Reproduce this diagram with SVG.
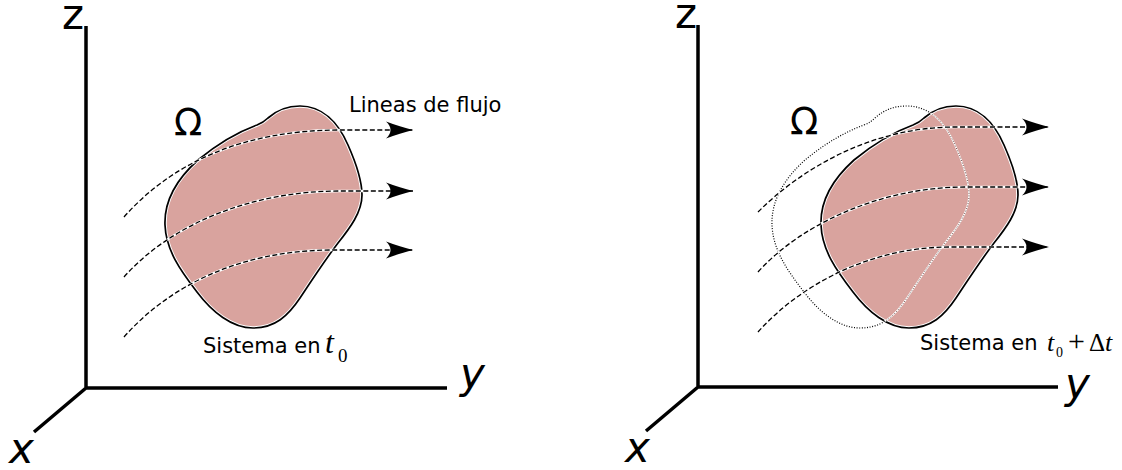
<svg xmlns="http://www.w3.org/2000/svg" xmlns:xlink="http://www.w3.org/1999/xlink" width="1122" height="470" viewBox="0 0 1122 470">
<style>
.axis{stroke:#000;stroke-width:3.5;fill:none;stroke-linecap:butt}
.blobEdge{fill:#d9a39e;stroke:#fff;stroke-width:3.6}
.blob{fill:none;stroke:#000;stroke-width:1.7}
.ghost{fill:none;stroke:#000;stroke-width:1.2;stroke-dasharray:1 1.6}
.ghostIn{fill:none;stroke:#fff;stroke-width:1.6}
.ghostInDots{fill:none;stroke:#6a5450;stroke-width:1;stroke-dasharray:1 1.6}
.flowUnder{fill:none;stroke:#fff;stroke-width:2.4}
.flow{fill:none;stroke:#000;stroke-width:1.3;stroke-dasharray:5 2.5}
.axlbl{font-family:"DejaVu Sans",Verdana,sans-serif;font-size:42px;fill:#000}
.lbl{font-family:"DejaVu Sans",Verdana,sans-serif;font-size:21px;fill:#000}
.om{font-family:"DejaVu Sans",Verdana,sans-serif;font-size:37px;fill:#000}
.math{font-family:"Liberation Serif","Times New Roman",serif;fill:#000}
</style>
<defs>
<path id="blobShape" d="M257,125 C262,123 265,121 268,118 C278,109 288,106 300,106 C322,106 338,122 348,145 C356,163 362,180 362,195 C362,212 350,228 338,243 C325,260 312,280 300,298 C288,316 275,328 253,328 C232,328 212,312 197,292 C180,270 166,250 165,225 C164,200 178,178 198,160 C215,146 235,133 257,125 Z"/>
<clipPath id="clipRight">
<use xlink:href="#blobShape" transform="translate(656,0)"/>
</clipPath>
<marker id="ah" markerUnits="userSpaceOnUse" markerWidth="32" markerHeight="22" viewBox="-29 -11 32 22" refX="0" refY="0" orient="auto">
<path d="M0,0 C-8,-2 -18,-5 -27,-8.5 C-21,-3 -21,3 -27,8.5 C-18,5 -8,2 0,0 Z" fill="#000"/>
</marker>
</defs>
<rect width="1122" height="470" fill="#fff"/>

<g id="axes-left">
<path class="axis" d="M86,26 V388 H447 M86,388 L34,432"/>
<text class="axlbl" x="62" y="29">z</text>
<text class="axlbl" x="460" y="388" font-style="italic">y</text>
<text class="axlbl" x="9" y="463" font-style="italic">x</text>
</g>

<g id="axes-right">
<path class="axis" d="M698,25 V387 H1058 M698,387 L646,431"/>
<text class="axlbl" x="675" y="28">z</text>
<text class="axlbl" x="1065" y="398" font-style="italic">y</text>
<text class="axlbl" x="625" y="462" font-style="italic">x</text>
</g>

<g id="system-t0">
<use xlink:href="#blobShape" class="blobEdge"/>
<use xlink:href="#blobShape" class="blob"/>
</g>

<g id="system-initial-ghost">
<use xlink:href="#blobShape" class="ghost" transform="translate(607,0)"/>
</g>

<g id="system-t0-dt">
<use xlink:href="#blobShape" class="blobEdge" transform="translate(656,0)"/>
<use xlink:href="#blobShape" class="blob" transform="translate(656,0)"/>
<g clip-path="url(#clipRight)">
<use xlink:href="#blobShape" class="ghostIn" transform="translate(607,0)"/>
<use xlink:href="#blobShape" class="ghostInDots" transform="translate(607,0)"/>
</g>
</g>

<g id="connectors">
<path class="flowUnder" d="M124,217 C170,165 240,130 340,130 L395,130"/>
<path class="flowUnder" d="M124,277 C170,225 250,191 340,191 L395,191"/>
<path class="flowUnder" d="M124,337 C170,285 240,251 330,250 L395,250"/>
<path class="flow" marker-end="url(#ah)" d="M124,217 C170,165 240,130 340,130 L413,130"/>
<path class="flow" marker-end="url(#ah)" d="M124,277 C170,225 250,191 340,191 L413,191"/>
<path class="flow" marker-end="url(#ah)" d="M124,337 C170,285 240,251 330,250 L413,250"/>

<path class="flowUnder" d="M758,212 C800,170 870,127 955,127 L1030,127"/>
<path class="flowUnder" d="M758,272 C800,225 880,187 965,187 L1030,187"/>
<path class="flowUnder" d="M758,332 C800,285 870,247 950,247 L1030,247"/>
<path class="flow" marker-end="url(#ah)" d="M758,212 C800,170 870,127 955,127 L1049,127"/>
<path class="flow" marker-end="url(#ah)" d="M758,272 C800,225 880,187 965,187 L1049,187"/>
<path class="flow" marker-end="url(#ah)" d="M758,332 C800,285 870,247 950,247 L1049,247"/>
</g>

<g id="labels">
<text class="om" x="174" y="135">Ω</text>
<text class="om" x="790" y="134">Ω</text>
<text class="lbl" x="349" y="112">Lineas de flujo</text>
<text class="lbl" x="203" y="353">Sistema en</text>
<text class="math" x="325" y="353" font-size="32" font-style="italic">t</text>
<text class="math" x="338" y="362" font-size="19">0</text>
<text class="lbl" x="920" y="350">Sistema en</text>
<text class="math" x="1047" y="351" font-size="26" font-style="italic">t</text>
<text class="math" x="1056" y="357" font-size="14">0</text>
<text class="math" x="1068" y="351" font-size="30">+</text>
<text class="math" x="1089" y="351" font-size="25">Δ</text>
<text class="math" x="1105" y="351" font-size="26" font-style="italic">t</text>
</g>
</svg>
